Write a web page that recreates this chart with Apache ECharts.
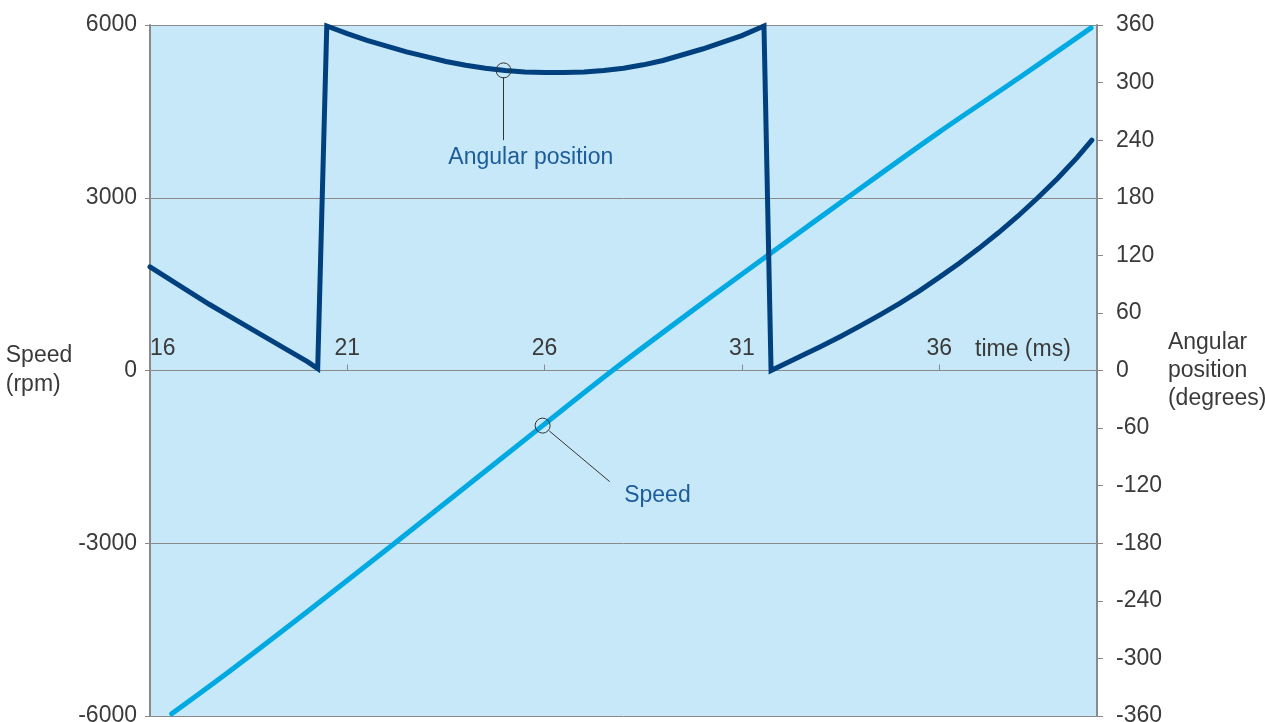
<!DOCTYPE html>
<html>
<head>
<meta charset="utf-8">
<title>Speed and angular position</title>
<script src="https://cdn.jsdelivr.net/npm/echarts@6/dist/echarts.min.js"></script>
<style>
  html, body { margin: 0; padding: 0; background: #ffffff; }
  #chart { width: 1265px; height: 722px; }
</style>
</head>
<body>
<div id="chart"></div>
<script>
// Time axis labels (ms)
const timeTicks = [16, 21, 26, 31, 36];

// Motor speed (rpm) over time (ms)
const speedTime = [16.55, 18, 20, 22.2, 24, 25.95, 27.72, 30, 32, 33.67, 36, 38, 39.85];
const speedRpm  = [-5960, -5230, -4180, -3000, -2020, -957, 0, 1170, 2170, 3000, 4140, 5070, 5950];

// Rotor angular position (degrees), wrapping between 0 and 360
const angleTime = [16, 16.5, 17, 17.5, 18, 18.5, 19, 19.5, 20, 20.25,
                   20.48, 21, 21.5, 22, 22.5, 23, 23.5, 24, 24.5, 25, 25.5, 26, 26.5, 27, 27.5, 28, 28.5, 29, 29.5, 30, 30.5, 31, 31.56,
                   31.74, 32.5, 33, 33.5, 34, 34.5, 35, 35.5, 36, 36.5, 37, 37.5, 38, 38.5, 39, 39.5, 39.87];
const angleDeg  = [108, 95, 82, 69, 57, 45, 33, 21, 9, 2,
                   359, 351, 344, 338, 332, 327, 322, 318, 315, 312.5, 311, 310.5, 310.5, 311, 312.5, 315, 318.5, 323, 329, 335, 342, 349, 359,
                   0, 15, 25, 35.5, 46.5, 58, 70, 83, 97, 111.5, 127, 143.5, 161, 180, 200, 222, 240];

// Callout annotations
const angleMarker = { at: [24.96, 312.7], lineTo: [24.96, 240], label: [25.65, 222], text: 'Angular position' };
const speedMarker = { at: [25.95, -957], lineFrom: [26.12, -1050], lineTo: [27.65, -1930], label: [28.86, -2174], text: 'Speed' };

const FONT = '"Liberation Sans", Arial, sans-serif';
const FONT_SIZE = 23;
const TXT = '#3a3a3a';
const GRID_GRAY = '#8a8a8a';
const CALLOUT_BLUE = '#1d5c9a';

const GRID_TOP = 25, GRID_BOTTOM = 6, CHART_H = 722;
// Time axis sits on the zero-speed line, half way down the plot
const zeroLineOffset = -(CHART_H - GRID_TOP - GRID_BOTTOM) / 2;

const speedData = speedTime.map((t, i) => [t, speedRpm[i]]);
const angleData = angleTime.map((t, i) => [t, angleDeg[i]]);

const chart = echarts.init(document.getElementById('chart'), null, { renderer: 'canvas' });

const textStyle = { color: TXT, fontFamily: FONT, fontSize: FONT_SIZE };

const calloutLabel = (coord, text) => ({
  coord: coord,
  symbol: 'circle',
  symbolSize: 0,
  label: {
    show: true,
    position: 'inside',
    formatter: text,
    color: CALLOUT_BLUE,
    fontFamily: FONT,
    fontSize: FONT_SIZE
  }
});

const circleMark = (coord) => ({
  coord: coord,
  symbol: 'circle',
  symbolSize: 15,
  itemStyle: { color: 'rgba(0,0,0,0)', borderColor: '#333333', borderWidth: 1 },
  label: { show: false }
});

const plain = (v) => String(v);

chart.setOption({
  animation: false,
  grid: {
    left: 150, right: 168, top: GRID_TOP, bottom: GRID_BOTTOM,
    outerBoundsMode: 'none',
    containLabel: false,
    show: true,
    backgroundColor: '#c6e8f8',
    borderWidth: 0
  },
  xAxis: {
    type: 'value',
    min: 16,
    max: 40,
    position: 'bottom',
    offset: zeroLineOffset,
    name: 'time (ms)',
    nameLocation: 'end',
    nameGap: -122,
    nameTextStyle: Object.assign({}, textStyle, { verticalAlign: 'bottom', padding: [0, 0, 9, 0] }),
    axisLine: { onZero: false, lineStyle: { color: GRID_GRAY, width: 1 } },
    axisTick: { show: true, inside: true, length: 6, customValues: timeTicks, lineStyle: { color: GRID_GRAY } },
    axisLabel: Object.assign({
      inside: true,
      margin: 10,
      customValues: timeTicks,
      alignMinLabel: 'left',
      formatter: plain
    }, textStyle),
    splitLine: { show: false }
  },
  yAxis: [
    {
      type: 'value',
      min: -6000,
      max: 6000,
      interval: 3000,
      name: 'Speed\n(rpm)',
      nameLocation: 'middle',
      nameRotate: 0,
      nameGap: 136,
      nameTextStyle: Object.assign({}, textStyle, { align: 'left', verticalAlign: 'middle', lineHeight: 29, padding: [0, 0, 4, 0] }),
      axisLine: { show: true, lineStyle: { color: GRID_GRAY, width: 2 } },
      axisTick: { show: true, length: 5, lineStyle: { color: GRID_GRAY, width: 1 } },
      axisLabel: Object.assign({ margin: 13, formatter: plain }, textStyle),
      splitLine: { show: true, lineStyle: { color: GRID_GRAY, width: 1 } }
    },
    {
      type: 'value',
      min: -360,
      max: 360,
      interval: 60,
      position: 'right',
      name: 'Angular\nposition\n(degrees)',
      nameLocation: 'middle',
      nameRotate: 0,
      nameGap: 65,
      nameTextStyle: Object.assign({}, textStyle, { align: 'left', verticalAlign: 'middle', lineHeight: 28 }),
      axisLine: { show: true, lineStyle: { color: GRID_GRAY, width: 2 } },
      axisTick: { show: true, length: 6, lineStyle: { color: GRID_GRAY, width: 1 } },
      axisLabel: Object.assign({ margin: 19, formatter: plain }, textStyle),
      splitLine: { show: false }
    }
  ],
  series: [
    {
      name: 'Speed',
      type: 'line',
      yAxisIndex: 0,
      data: speedData,
      smooth: 0.3,
      showSymbol: false,
      clip: false,
      lineStyle: { color: '#00a9e2', width: 5, cap: 'round', join: 'round' },
      markPoint: {
        silent: true,
        data: [circleMark(speedMarker.at), calloutLabel(speedMarker.label, speedMarker.text)]
      },
      markLine: {
        silent: true,
        symbol: ['none', 'none'],
        label: { show: false },
        lineStyle: { color: '#333333', width: 1, type: 'solid' },
        data: [[{ coord: speedMarker.lineFrom }, { coord: speedMarker.lineTo }]]
      },
      z: 3
    },
    {
      name: 'Angular position',
      type: 'line',
      yAxisIndex: 1,
      data: angleData,
      showSymbol: false,
      clip: false,
      lineStyle: { color: '#00407e', width: 5, cap: 'round', join: 'miter' },
      markPoint: {
        silent: true,
        data: [circleMark(angleMarker.at), calloutLabel(angleMarker.label, angleMarker.text)]
      },
      markLine: {
        silent: true,
        symbol: ['none', 'none'],
        label: { show: false },
        lineStyle: { color: '#333333', width: 1, type: 'solid' },
        data: [[{ coord: [angleMarker.at[0], angleMarker.at[1] - 7] }, { coord: angleMarker.lineTo }]]
      },
      z: 4
    }
  ]
});
</script>
</body>
</html>
